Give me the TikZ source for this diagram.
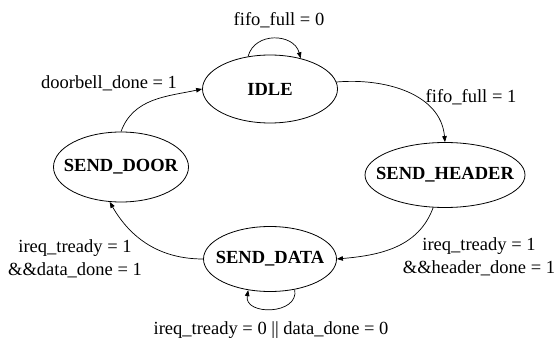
\documentclass[tikz,border=0pt]{standalone}
\usepackage{fontspec}
\setmainfont{Liberation Serif}
\usetikzlibrary{shapes.geometric,arrows.meta}
\begin{document}
\begin{tikzpicture}[x=1pt,y=1pt,
  state/.style={draw, ellipse, line width=0.8pt, inner sep=0pt},
  statename/.style={font=\fontsize{18.5}{23}\selectfont\bfseries},
  trans/.style={draw, line width=0.7pt, -{Triangle[length=6pt,width=4.5pt]}},
  cond/.style={font=\fontsize{18.5}{23}\selectfont, align=center, inner sep=0pt}]
\useasboundingbox (0,0) rectangle (559,-339);

% states
\node[state, minimum width=135pt, minimum height=68pt,
      label={[statename]center:IDLE}] (idle) at (270,-89) {};
\node[state, minimum width=135pt, minimum height=70pt,
      label={[statename]center:SEND\_DOOR}] (door) at (121,-167) {};
\node[state, minimum width=160pt, minimum height=65pt,
      label={[statename]center:SEND\_HEADER}] (header) at (445,-175) {};
\node[state, minimum width=133pt, minimum height=65pt,
      label={[statename]center:SEND\_DATA}] (data) at (270,-259) {};

% transitions
\draw[trans] (idle.124) .. controls +(75:26) and +(105:26) .. (idle.45);
\draw[trans] (idle.6) to[out=5,in=95] (header.north);
\draw[trans] (header.250) to[out=250,in=5] (data.east);
\draw[trans] (data.309) .. controls +(-80:26) and +(-100:26) .. (data.235);
\draw[trans] (data.west) to[out=180,in=300] (door.252);
\draw[trans] (door.north) to[out=70,in=192] (idle.west);

% transition conditions
\node[cond] (c0) at (279,-20) {fifo\_full = 0};
\node[cond] (c1) at (471,-97) {fifo\_full = 1};
\node[cond] (c2) at (479,-257) {ireq\_tready = 1\\\&\&header\_done = 1};
\node[cond] (c3) at (271,-330) {ireq\_tready = 0 || data\_done = 0};
\node[cond] (c4) at (75,-259) {ireq\_tready = 1\\\&\&data\_done = 1};
\node[cond] (c5) at (109,-83) {doorbell\_done = 1};
\end{tikzpicture}
\end{document}
